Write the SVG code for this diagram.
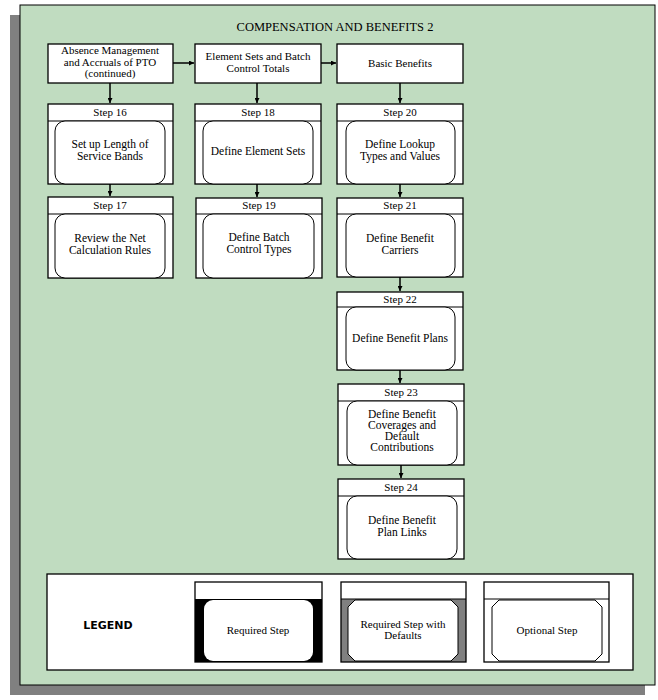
<svg xmlns="http://www.w3.org/2000/svg" width="658" height="700" viewBox="0 0 658 700">
<style>
.t{font-family:"Liberation Serif","Times New Roman",serif;font-size:11px;fill:#000;text-anchor:middle}
.s{font-size:11.5px}
.box{fill:#fff;stroke:#000;stroke-width:1.3}
.in{fill:#fff;stroke:#000;stroke-width:1}
.ln{fill:none;stroke:#000;stroke-width:1.5}
.hd{stroke:#000;stroke-width:1.2}
</style>
<defs>
<marker id="ah" viewBox="0 0 8 8" refX="8" refY="4" markerWidth="5" markerHeight="5" orient="auto" markerUnits="userSpaceOnUse">
<path d="M0,0 L8,4 L0,8 Z" fill="#000"/>
</marker>
</defs>
<rect x="10" y="15" width="635" height="680" fill="#808080"/>
<rect x="20" y="5" width="635" height="680" fill="#c0dcc0" stroke="#000" stroke-width="1"/>
<text x="335" y="31" class="t" style="font-size:12.5px">COMPENSATION AND BENEFITS 2</text>

<g id="connectors">
<line class="ln" x1="173" y1="63" x2="194" y2="63" marker-end="url(#ah)"/>
<line class="ln" x1="321" y1="63" x2="336" y2="63" marker-end="url(#ah)"/>
<line class="ln" x1="110" y1="83" x2="110" y2="103" marker-end="url(#ah)"/>
<line class="ln" x1="110" y1="184" x2="110" y2="196" marker-end="url(#ah)"/>
<line class="ln" x1="257" y1="83" x2="257" y2="103" marker-end="url(#ah)"/>
<line class="ln" x1="257" y1="184" x2="257" y2="197" marker-end="url(#ah)"/>
<line class="ln" x1="400" y1="83" x2="400" y2="103" marker-end="url(#ah)"/>
<line class="ln" x1="400" y1="184" x2="400" y2="197" marker-end="url(#ah)"/>
<line class="ln" x1="400" y1="277" x2="400" y2="291" marker-end="url(#ah)"/>
<line class="ln" x1="400" y1="370" x2="400" y2="383" marker-end="url(#ah)"/>
<line class="ln" x1="401" y1="465" x2="401" y2="478" marker-end="url(#ah)"/>
</g>

<g id="absence">
<rect class="box" x="48" y="44" width="125" height="39"/>
<text class="t" x="110" y="54">Absence Management</text>
<text class="t" x="110" y="66">and Accruals of PTO</text>
<text class="t" x="110" y="77">(continued)</text>
</g>
<g id="elementsets">
<rect class="box" x="195" y="44" width="126" height="39"/>
<text class="t" x="258" y="60">Element Sets and Batch</text>
<text class="t" x="258" y="72">Control Totals</text>
</g>
<g id="basicbenefits">
<rect class="box" x="337" y="44" width="126" height="39"/>
<text class="t" x="400" y="67">Basic Benefits</text>
</g>

<g id="step16">
<rect class="box" x="48" y="104" width="125" height="80"/>
<line class="hd" x1="48" y1="121" x2="173" y2="121"/>
<rect class="in" x="55" y="121" width="110" height="63" rx="10"/>
<text class="t" x="110" y="116">Step 16</text>
<text class="t s" x="110" y="148">Set up Length of</text>
<text class="t s" x="110" y="159.5">Service Bands</text>
</g>
<g id="step17">
<rect class="box" x="48" y="197" width="125" height="81"/>
<line class="hd" x1="48" y1="214" x2="173" y2="214"/>
<rect class="in" x="55" y="214" width="110" height="64" rx="10"/>
<text class="t" x="110" y="209">Step 17</text>
<text class="t s" x="110" y="242">Review the Net</text>
<text class="t s" x="110" y="253.5">Calculation Rules</text>
</g>
<g id="step18">
<rect class="box" x="195" y="104" width="126" height="80"/>
<line class="hd" x1="195" y1="121" x2="321" y2="121"/>
<rect class="in" x="203" y="121" width="110" height="63" rx="10"/>
<text class="t" x="258" y="116">Step 18</text>
<text class="t s" x="258" y="155">Define Element Sets</text>
</g>
<g id="step19">
<rect class="box" x="196" y="198" width="126" height="80"/>
<line class="hd" x1="196" y1="214" x2="322" y2="214"/>
<rect class="in" x="203" y="214" width="111" height="64" rx="10"/>
<text class="t" x="259" y="209">Step 19</text>
<text class="t s" x="259" y="241">Define Batch</text>
<text class="t s" x="259" y="253">Control Types</text>
</g>
<g id="step20">
<rect class="box" x="337" y="104" width="126" height="80"/>
<line class="hd" x1="337" y1="121" x2="463" y2="121"/>
<rect class="in" x="346" y="121" width="109" height="63" rx="10"/>
<text class="t" x="400" y="116">Step 20</text>
<text class="t s" x="400" y="148">Define Lookup</text>
<text class="t s" x="400" y="159.5">Types and Values</text>
</g>
<g id="step21">
<rect class="box" x="337" y="198" width="126" height="79"/>
<line class="hd" x1="337" y1="214" x2="463" y2="214"/>
<rect class="in" x="346" y="214" width="109" height="63" rx="10"/>
<text class="t" x="400" y="209">Step 21</text>
<text class="t s" x="400" y="242">Define Benefit</text>
<text class="t s" x="400" y="253.5">Carriers</text>
</g>
<g id="step22">
<rect class="box" x="337" y="292" width="126" height="78"/>
<line class="hd" x1="337" y1="307" x2="463" y2="307"/>
<rect class="in" x="346" y="307" width="109" height="63" rx="10"/>
<text class="t" x="400" y="303">Step 22</text>
<text class="t s" x="400" y="342">Define Benefit Plans</text>
</g>
<g id="step23">
<rect class="box" x="338" y="384" width="126" height="81"/>
<line class="hd" x1="338" y1="401" x2="464" y2="401"/>
<rect class="in" x="347" y="401" width="110" height="64" rx="10"/>
<text class="t" x="401" y="396">Step 23</text>
<text class="t s" x="402" y="418">Define Benefit</text>
<text class="t s" x="402" y="429">Coverages and</text>
<text class="t s" x="402" y="440">Default</text>
<text class="t s" x="402" y="451">Contributions</text>
</g>
<g id="step24">
<rect class="box" x="338" y="479" width="126" height="80"/>
<line class="hd" x1="338" y1="496" x2="464" y2="496"/>
<rect class="in" x="347" y="496" width="110" height="63" rx="10"/>
<text class="t" x="401" y="491">Step 24</text>
<text class="t s" x="402" y="524">Define Benefit</text>
<text class="t s" x="402" y="535.5">Plan Links</text>
</g>

<g id="legend">
<rect class="box" x="47" y="574" width="586" height="96"/>
<text x="108" y="629" style="font-family:'DejaVu Sans','Liberation Sans',sans-serif;font-size:11px;font-weight:bold;text-anchor:middle">LEGEND</text>
<g id="legend-required">
<rect x="195" y="599" width="127" height="63" fill="#000"/>
<rect class="box" x="195" y="582" width="127" height="80" style="fill:none"/>
<rect x="204" y="600" width="109" height="61" rx="9" fill="#fff"/>
<text class="t" x="258" y="634">Required Step</text>
</g>
<g id="legend-defaults">
<rect x="341" y="599" width="125" height="63" fill="#808080"/>
<rect class="box" x="341" y="582" width="125" height="80" style="fill:none"/>
<line class="hd" x1="341" y1="599" x2="466" y2="599"/>
<path class="in" d="M355,600 L451,600 L458,607 L458,654 L451,661 L355,661 L348,654 L348,607 Z"/>
<text class="t" x="403" y="628">Required Step with</text>
<text class="t" x="403" y="639">Defaults</text>
</g>
<g id="legend-optional">
<rect class="box" x="484" y="582" width="125" height="80"/>
<line class="hd" x1="484" y1="599" x2="609" y2="599"/>
<path class="in" d="M499,600 L595,600 L602,607 L602,654 L595,661 L499,661 L492,654 L492,607 Z"/>
<text class="t" x="547" y="634">Optional Step</text>
</g>
</g>
</svg>
